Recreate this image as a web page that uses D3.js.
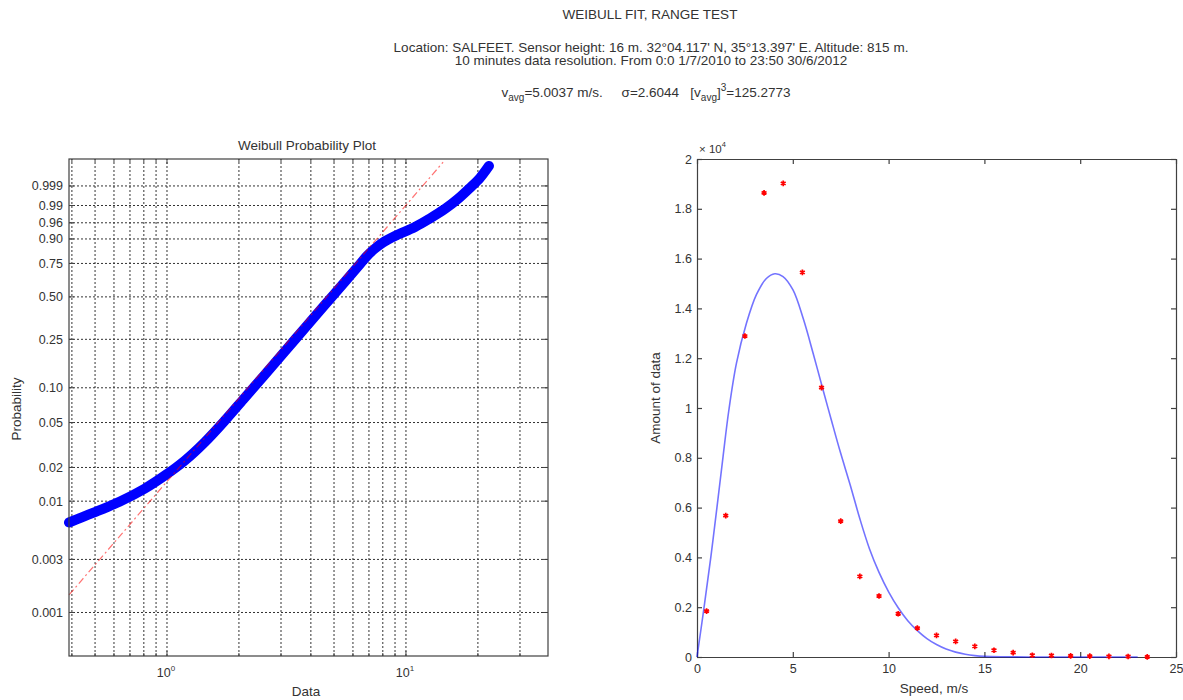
<!DOCTYPE html>
<html>
<head>
<meta charset="utf-8">
<title>Weibull fit, range test</title>
<script src="https://cdn.jsdelivr.net/npm/d3@7"></script>
<style>
  body { margin: 0; background: white; }
  text { font-family: Arial, "Liberation Sans", sans-serif; fill: #333; }
  .grid line { stroke: #333; stroke-dasharray: 2,2; stroke-width: 1; }
</style>
</head>
<body>
<svg id="chart" width="1183" height="700"></svg>
<script>

    // Weibull probability plot (speed in m/s, cumulative probability)
    var probSpeed = [0.389, 0.490, 0.636, 0.809, 0.981, 1.189, 1.442, 1.749, 2.120, 2.571, 3.116, 3.778,
                     4.581, 5.555, 6.299, 6.867, 7.419, 8.014, 8.995, 10.91, 12.60, 14.56, 16.51, 18.53,
                     20.40, 22.25];
    var probValue = [0.00644, 0.00784, 0.00994, 0.01299, 0.01698, 0.02309, 0.03370, 0.05214, 0.08264, 0.12965,
                     0.2012, 0.30517, 0.44505, 0.61342, 0.72737, 0.80189, 0.84907, 0.88258, 0.91378, 0.94780,
                     0.97048, 0.98629, 0.99489, 0.99868, 0.999712, 0.9999712];
    // the fitted (straight) reference line, its two ends
    var refSpeed = [0.389, 14.3];
    var refProb = [0.00144, 0.9999875];

    var probTicks = [0.001, 0.003, 0.01, 0.02, 0.05, 0.10, 0.25, 0.50, 0.75, 0.90, 0.96, 0.99, 0.999];
    var probTickLabels = ["0.001", "0.003", "0.01", "0.02", "0.05", "0.10", "0.25", "0.50", "0.75", "0.90", "0.96", "0.99", "0.999"];
    var dataGrid = [0.4, 0.5, 0.6, 0.7, 0.8, 0.9, 1, 2, 3, 4, 5, 6, 7, 8, 9, 10, 20, 30];
    var dataDecades = [1, 10];

    // histogram of speeds (bin centres) and the weibull curve
    var binSpeed = [0.5, 1.5, 2.5, 3.5, 4.5, 5.5, 6.5, 7.5, 8.5, 9.5, 10.5, 11.5,
                    12.5, 13.5, 14.5, 15.5, 16.5, 17.5, 18.5, 19.5, 20.5, 21.5, 22.5, 23.5];
    var binCount = [1840, 5680, 12890, 18640, 19020, 15445, 10820, 5456, 3240, 2450, 1736, 1160,
                    870, 630, 430, 270, 177, 70, 60, 45, 35, 25, 20, 3];
    var fitSpeed = [0, 0.37, 0.72, 1.04, 1.36, 1.66, 2.06, 2.58, 3.10, 3.62, 4.06, 4.49, 5.01, 5.54, 6.06,
                    6.58, 7.0, 7.45, 8.0, 8.5, 9.0, 9.5, 10.0, 10.5, 11.0, 11.5, 12.0, 12.5, 13.0, 13.5,
                    14.0, 14.5, 15.0, 16, 18, 20, 23];
    var fitCount = [0, 2000, 4000, 6000, 8050, 9900, 11800, 13400, 14550, 15200, 15390, 15280, 14740, 13600, 12200,
                    10720, 9550, 8310, 6900, 5550, 4350, 3400, 2620, 1980, 1460, 1060, 740, 500, 320, 195,
                    110, 55, 25, 8, 1, 0, 0];
    var speedTicks = [0, 5, 10, 15, 20, 25];
    var countTicks = d3.range(0, 20001, 2000);

    var nb = "\u00a0";
    var svg = d3.select("#chart");
    svg.append("rect").attr("width", 1183).attr("height", 700).attr("fill", "white");

    // ---------- header ----------
    var head = svg.append("g").attr("text-anchor", "middle").style("font-size", "13.5px");
    head.append("text").attr("x", 650).attr("y", 19)
        .text("WEIBULL FIT, RANGE TEST");
    head.append("text").attr("x", 651).attr("y", 52)
        .text("Location: SALFEET. Sensor height: 16 m. 32°04.117' N, 35°13.397' E. Altitude: 815 m.");
    head.append("text").attr("x", 651).attr("y", 65)
        .text("10 minutes data resolution. From 0:0 1/7/2010 to 23:50 30/6/2012");
    var stats = head.append("text").attr("x", 646).attr("y", 97);
    stats.append("tspan").text("v");
    stats.append("tspan").attr("dy", 4).style("font-size", "10px").text("avg");
    stats.append("tspan").attr("dy", -4).text("=5.0037 m/s." + nb.repeat(5) + "σ=2.6044" + nb.repeat(3) + "[v");
    stats.append("tspan").attr("dy", 4).style("font-size", "10px").text("avg");
    stats.append("tspan").attr("dy", -4).text("]");
    stats.append("tspan").attr("dy", -6).style("font-size", "10px").text("3");
    stats.append("tspan").attr("dy", 6).text("=125.2773");

    // ---------- left: weibull probability plot ----------
    function wt(p) { return Math.log10(-Math.log(1 - p)); }

    var xL = d3.scaleLog().domain([0.389, 39.3]).range([69, 548]);
    var yL = d3.scaleLinear().domain([wt(0.000406), wt(1 - 5.7e-6)]).range([656, 159]);
    var left = svg.append("g");

    var gridL = left.append("g").attr("class", "grid");
    gridL.selectAll(".gx").data(dataGrid).enter().append("line")
        .attr("x1", d => xL(d)).attr("x2", d => xL(d))
        .attr("y1", yL.range()[0]).attr("y2", yL.range()[1]);
    gridL.selectAll(".gy").data(probTicks).enter().append("line")
        .attr("x1", xL.range()[0]).attr("x2", xL.range()[1])
        .attr("y1", d => yL(wt(d))).attr("y2", d => yL(wt(d)));

    var probLine = d3.line()
        .x(d => xL(d[0]))
        .y(d => yL(wt(d[1])))
        .curve(d3.curveCatmullRom.alpha(0.5));

    left.append("path")
        .datum(d3.zip(probSpeed, probValue))
        .attr("d", probLine)
        .attr("fill", "none")
        .attr("stroke", "#0000ff")
        .attr("stroke-width", 10)
        .attr("stroke-linecap", "round");

    left.append("path")
        .datum(d3.zip(refSpeed, refProb))
        .attr("d", d3.line().x(d => xL(d[0])).y(d => yL(wt(d[1]))))
        .attr("fill", "none")
        .attr("stroke", "red")
        .attr("stroke-opacity", 0.55)
        .attr("stroke-width", 1.2)
        .attr("stroke-dasharray", "7,3,2,3");

    left.append("rect")
        .attr("x", xL.range()[0]).attr("y", yL.range()[1])
        .attr("width", xL.range()[1] - xL.range()[0])
        .attr("height", yL.range()[0] - yL.range()[1])
        .attr("fill", "none").attr("stroke", "#404040").attr("stroke-width", 1.2);

    // inward ticks
    var ticksL = left.append("g").attr("stroke", "#404040");
    probTicks.forEach(function(p) {
        ticksL.append("line").attr("x1", xL.range()[0]).attr("x2", xL.range()[0] + 5)
            .attr("y1", yL(wt(p))).attr("y2", yL(wt(p)));
        ticksL.append("line").attr("x1", xL.range()[1]).attr("x2", xL.range()[1] - 5)
            .attr("y1", yL(wt(p))).attr("y2", yL(wt(p)));
    });
    dataGrid.forEach(function(v) {
        var len = dataDecades.indexOf(v) >= 0 ? 5 : 3;
        ticksL.append("line").attr("x1", xL(v)).attr("x2", xL(v))
            .attr("y1", yL.range()[0]).attr("y2", yL.range()[0] - len);
        ticksL.append("line").attr("x1", xL(v)).attr("x2", xL(v))
            .attr("y1", yL.range()[1]).attr("y2", yL.range()[1] + len);
    });

    left.selectAll(".plab").data(probTicks).enter().append("text")
        .attr("x", xL.range()[0] - 6)
        .attr("y", d => yL(wt(d)) + 4.5)
        .attr("text-anchor", "end")
        .style("font-size", "12.5px")
        .text((d, i) => probTickLabels[i]);

    var dec = left.selectAll(".dlab").data(dataDecades).enter().append("text")
        .attr("x", d => xL(d) - 1)
        .attr("y", 677)
        .attr("text-anchor", "middle")
        .style("font-size", "12.5px");
    dec.append("tspan").text("10");
    dec.append("tspan").attr("dy", -6).style("font-size", "8px").text((d, i) => i);

    left.append("text").attr("x", 307).attr("y", 150).attr("text-anchor", "middle")
        .style("font-size", "13.5px").text("Weibull Probability Plot");
    left.append("text").attr("x", 306).attr("y", 696).attr("text-anchor", "middle")
        .style("font-size", "13.5px").text("Data");
    left.append("text").attr("transform", "translate(21,409) rotate(-90)").attr("text-anchor", "middle")
        .style("font-size", "13.5px").text("Probability");

    // ---------- right: histogram and fit ----------
    var xR = d3.scaleLinear().domain([0, 25]).range([697, 1176]);
    var yR = d3.scaleLinear().domain([0, 20000]).range([657, 159]);
    var right = svg.append("g");

    function styleAxis(g) {
        g.attr("font-family", null).attr("font-size", null);
        g.selectAll("path, line").attr("stroke", "#404040").attr("stroke-width", 1.2);
        g.selectAll("text").style("font-size", "12.5px").attr("fill", "#333");
    }

    right.append("g").attr("transform", "translate(0," + yR.range()[0] + ")")
        .call(d3.axisBottom(xR).tickValues(speedTicks).tickSize(-5).tickSizeOuter(0).tickPadding(7))
        .call(styleAxis);
    right.append("g").attr("transform", "translate(0," + yR.range()[1] + ")")
        .call(d3.axisTop(xR).tickValues(speedTicks).tickSize(-5).tickSizeOuter(0).tickFormat(""))
        .call(styleAxis);
    right.append("g").attr("transform", "translate(" + xR.range()[0] + ",0)")
        .call(d3.axisLeft(yR).tickValues(countTicks).tickSize(-5).tickSizeOuter(0).tickPadding(5)
            .tickFormat(d => d3.format("~g")(d / 10000)))
        .call(styleAxis);
    right.append("g").attr("transform", "translate(" + xR.range()[1] + ",0)")
        .call(d3.axisRight(yR).tickValues(countTicks).tickSize(-5).tickSizeOuter(0).tickFormat(""))
        .call(styleAxis);

    right.append("path")
        .datum(d3.zip(fitSpeed, fitCount))
        .attr("d", d3.line().x(d => xR(d[0])).y(d => yR(d[1])).curve(d3.curveCatmullRom.alpha(0.5)))
        .attr("fill", "none")
        .attr("stroke", "blue")
        .attr("stroke-opacity", 0.55)
        .attr("stroke-width", 1.6);

    right.selectAll(".bin").data(d3.zip(binSpeed, binCount)).enter().append("path")
        .attr("transform", d => "translate(" + xR(d[0]) + "," + yR(d[1]) + ")")
        .attr("d", d3.symbol(d3.symbolAsterisk, 22))
        .attr("fill", "none")
        .attr("stroke", "red")
        .attr("stroke-width", 1.7);

    var expo = right.append("text").attr("x", 699).attr("y", 153).style("font-size", "11.5px");
    expo.append("tspan").text("× 10");
    expo.append("tspan").attr("dy", -6).style("font-size", "7.5px").text("4");

    right.append("text").attr("x", 934).attr("y", 693).attr("text-anchor", "middle")
        .style("font-size", "13.5px").text("Speed, m/s");
    right.append("text").attr("transform", "translate(660,398) rotate(-90)").attr("text-anchor", "middle")
        .style("font-size", "13.5px").text("Amount of data");

</script>
</body>
</html>
